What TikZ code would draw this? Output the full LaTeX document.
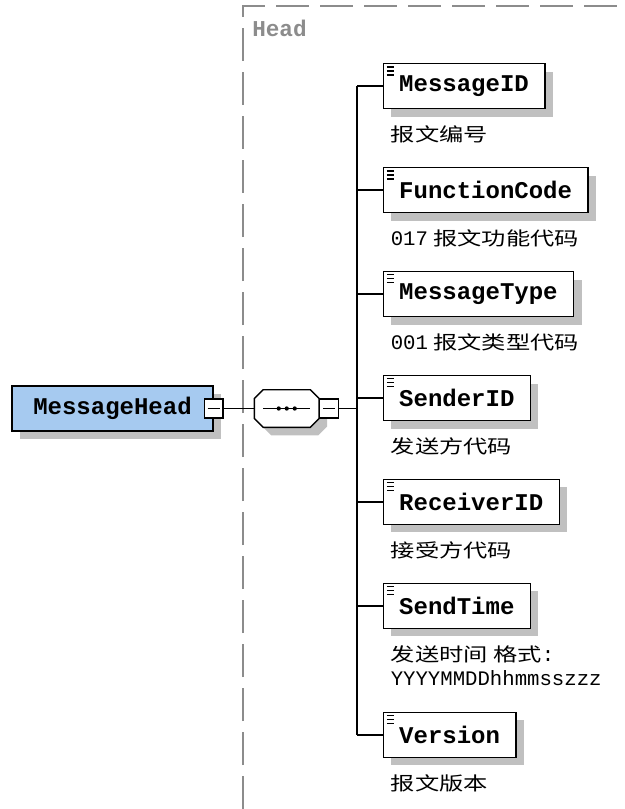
\documentclass[tikz,border=0pt]{standalone}
\usepackage{fontspec}
\setmainfont{Liberation Mono}
\newfontfamily\cnfont[FakeStretch=1.3]{Noto Sans CJK SC}
\newfontfamily\latfont{Liberation Mono}
\usetikzlibrary{positioning, shadows}

\definecolor{headblue}{RGB}{166,202,240}
\definecolor{shadowgray}{RGB}{192,192,192}
\definecolor{framegray}{RGB}{140,140,140}

% latin bits inside the chinese notes
\newcommand{\numtext}[1]{{\latfont\fontsize{15.5}{18}\selectfont #1}}

\begin{document}
\begin{tikzpicture}[
    x=0.75pt, y=-0.75pt,
    boxshadow/.style={drop shadow={shadow xshift=6pt, shadow yshift=-6pt, fill=shadowgray, opacity=1}},
    elem/.style={draw, line width=1.1pt, fill=white, minimum height=33.75pt, inner xsep=12pt,
        font=\fontsize{18}{20}\selectfont\bfseries, boxshadow},
    sequence/.style={minimum width=48pt, minimum height=27.75pt, inner sep=0pt},
    seqoutline/.style={line width=1.1pt, fill=white, boxshadow},
    minus/.style={draw, line width=1.1pt, fill=white, minimum size=14pt, inner sep=0pt,
        path picture={\draw[line width=0.9pt] ([xshift=2.5pt]path picture bounding box.west) -- ([xshift=-2.5pt]path picture bounding box.east);}},
    note/.style={inner sep=0pt, align=left, font=\cnfont\fontsize{14}{18}\selectfont},
    grouptitle/.style={inner sep=0pt, text=framegray, font=\fontsize{17}{20}\selectfont\bfseries},
    groupframe/.style={draw=framegray, line width=1.1pt, dash pattern=on 24.75pt off 8.25pt},
    link/.style={line width=1.3pt},
    icon/.style={line width=0.9pt}
]
    \useasboundingbox (0,0) rectangle (624,809);

    % group frame
    \draw [groupframe] (243,809) |- (624,6);
    \node (grouplabel) [grouptitle, anchor=west] at (252,28) {Head};

    % parent element and compositor
    \node (head) [elem, fill=headblue, minimum width=150.75pt] at (112.5,408.5) {MessageHead};
    \node (headminus) [minus] at (head.east) {};
    \node (seq) [sequence, right=23pt of headminus] {};
    \draw [seqoutline] ([xshift=6.5pt]seq.north west) -- ([xshift=-6.5pt]seq.north east)
        -- ([yshift=-6.5pt]seq.north east) -- ([yshift=6.5pt]seq.south east)
        -- ([xshift=-6.5pt]seq.south east) -- ([xshift=6.5pt]seq.south west)
        -- ([yshift=6.5pt]seq.south west) -- ([yshift=-6.5pt]seq.north west) -- cycle;
    \node (seqminus) [minus, anchor=west] at (seq.east) {};
    \coordinate (fork) at ([xshift=13.5pt]seqminus.east);

    \draw [link] ([xshift=-17.5pt]seq.center) -- ([xshift=17.5pt]seq.center);
    \foreach \dx in {-6pt,0pt,6pt}
        \fill ([xshift=\dx]seq.center) circle (1.6pt);

    % child elements
    \node (msgid) [elem, anchor=north west] at (382.5,63) {MessageID};
    \node (funccode) [elem, below=43.1pt of msgid.south west, anchor=north west] {FunctionCode};
    \node (msgtype) [elem, below=43.1pt of funccode.south west, anchor=north west] {MessageType};
    \node (sender) [elem, below=43.1pt of msgtype.south west, anchor=north west] {SenderID};
    \node (receiver) [elem, below=43.1pt of sender.south west, anchor=north west] {ReceiverID};
    \node (sendtime) [elem, below=43.1pt of receiver.south west, anchor=north west] {SendTime};
    \node (version) [elem, below=61.9pt of sendtime.south west, anchor=north west] {Version};

    % notes under the elements
    \node (msgidnote) [note, below right=12pt and 6pt of msgid.south west] {报文编号};
    \node (funccodenote) [note, below right=12pt and 6pt of funccode.south west] {\numtext{017} 报文功能代码};
    \node (msgtypenote) [note, below right=12pt and 6pt of msgtype.south west] {\numtext{001} 报文类型代码};
    \node (sendernote) [note, below right=12pt and 6pt of sender.south west] {发送方代码};
    \node (receivernote) [note, below right=12pt and 6pt of receiver.south west] {接受方代码};
    \node (sendtimenote) [note, below right=12pt and 6pt of sendtime.south west] {发送时间 格式\numtext{:}\\\numtext{YYYYMMDDhhmmsszzz}};
    \node (versionnote) [note, below right=12pt and 6pt of version.south west] {报文版本};

    % element icons
    \foreach \n in {msgid,funccode,msgtype,sender,receiver,sendtime,version}
        \foreach \dy in {3pt,6pt,9pt}
            \draw [icon] ([xshift=3.2pt,yshift=-\dy]\n.north west) -- ++(5.4pt,0);

    % connections
    \draw [link] (headminus) -- (seq);
    \draw [link] (seqminus) -- (fork);
    \draw [link] (fork |- msgid.west) -- (fork |- version.west);
    \foreach \n in {msgid,funccode,msgtype,sender,receiver,sendtime,version}
        \draw [link] (fork |- \n.west) -- (\n.west);
\end{tikzpicture}
\end{document}
